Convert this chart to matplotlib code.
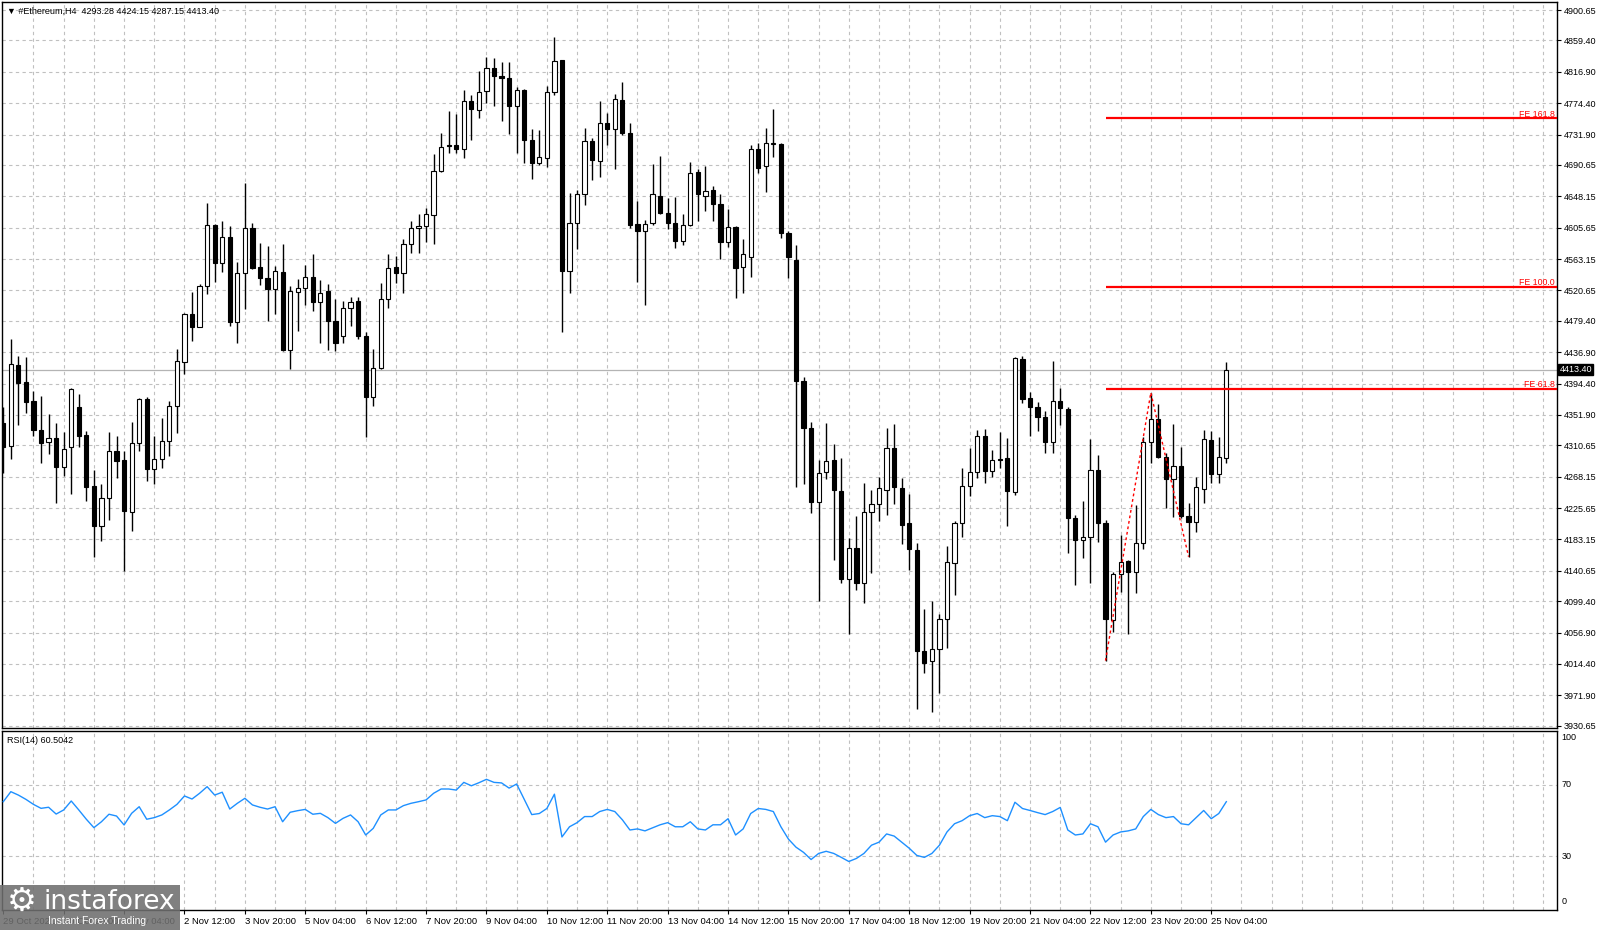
import matplotlib
matplotlib.use('Agg')
import matplotlib.pyplot as plt
from matplotlib.patches import Rectangle
import numpy as np

plt.rcParams['font.family'] = ['Liberation Sans', 'DejaVu Sans']

# OHLC, H4 свечи с 29 Oct 12:00 по 25 Nov 12:00
opens = [4340.4, 4309.7, 4419.5, 4396.0, 4370.7, 4331.4, 4314.7, 4321.0, 4281.7, 4307.9,
         4363.0, 4324.6, 4255.5, 4201.3, 4238.8, 4302.9, 4290.7, 4220.7, 4313.3, 4373.4,
         4278.5, 4291.6, 4316.9, 4363.9, 4423.1, 4488.2, 4471.5, 4526.6, 4609.3, 4557.3,
         4592.5, 4477.3, 4543.7, 4604.7, 4551.9, 4537.0, 4522.1, 4545.1, 4439.8, 4518.9,
         4524.3, 4538.3, 4505.3, 4520.2, 4479.1, 4458.8, 4496.3, 4506.2, 4458.8, 4375.6,
         4415.0, 4508.5, 4551.9, 4544.6, 4583.0, 4604.7, 4608.3, 4622.8, 4682.4, 4717.5,
         4717.7, 4711.8, 4777.8, 4765.1, 4791.3, 4821.6, 4811.6, 4808.0, 4770.5, 4792.2,
         4724.4, 4693.7, 4700.5, 4789.0, 4832.9, 4547.3, 4612.4, 4651.3, 4723.5, 4696.4,
         4747.9, 4739.4, 4778.4, 4734.5, 4610.9, 4601.4, 4612.6, 4649.1, 4626.1, 4612.6,
         4587.3, 4609.2, 4681.2, 4649.1, 4657.0, 4637.3, 4585.6, 4607.0, 4551.9, 4566.0,
         4712.0, 4689.6, 4719.5, 4719.4, 4598.0, 4561.5, 4397.4, 4334.5, 4233.3, 4273.8,
         4290.6, 4248.5, 4129.4, 4171.5, 4123.7, 4220.4, 4231.6, 4250.2, 4306.4, 4253.0,
         4204.7, 4168.7, 4031.9, 4018.8, 4034.1, 4074.8, 4150.7, 4204.9, 4255.5, 4274.0,
         4323.7, 4276.3, 4292.5, 4293.9, 4246.9, 4427.2, 4374.3, 4363.0, 4348.6, 4315.6,
         4371.2, 4359.9, 4211.7, 4182.3, 4185.9, 4277.2, 4205.8, 4073.9, 4136.2, 4154.3,
         4139.4, 4178.7, 4315.6, 4345.9, 4294.4, 4264.5, 4283.1, 4214.8, 4206.3, 4251.0,
         4317.9, 4271.8, 4293.28]
highs = [4363.0, 4454.7, 4432.2, 4430.8, 4384.3, 4377.5, 4352.6, 4341.3, 4329.1, 4387.9,
         4380.2, 4330.0, 4277.2, 4258.2, 4328.2, 4323.3, 4302.9, 4342.7, 4375.2, 4376.6,
         4323.3, 4347.2, 4370.7, 4440.7, 4489.5, 4518.9, 4529.3, 4638.6, 4610.5, 4614.7,
         4608.4, 4559.6, 4665.7, 4611.5, 4584.4, 4581.2, 4553.7, 4583.5, 4526.6, 4535.6,
         4555.0, 4569.9, 4534.7, 4528.8, 4508.5, 4506.7, 4512.1, 4512.1, 4464.7, 4440.7,
         4530.2, 4569.9, 4567.7, 4589.8, 4615.1, 4624.1, 4632.7, 4705.5, 4733.5, 4763.7,
         4759.7, 4792.2, 4785.4, 4818.0, 4837.4, 4835.1, 4829.7, 4829.7, 4796.7, 4793.0,
         4739.4, 4738.0, 4797.6, 4864.5, 4833.5, 4652.2, 4656.7, 4740.3, 4726.7, 4777.3,
         4760.6, 4786.3, 4803.7, 4747.5, 4641.8, 4616.5, 4691.3, 4702.5, 4645.8, 4647.5,
         4623.9, 4695.2, 4685.7, 4689.6, 4662.6, 4651.9, 4630.6, 4607.5, 4590.1, 4717.7,
         4720.5, 4741.3, 4766.6, 4720.5, 4601.4, 4581.7, 4403.0, 4342.3, 4290.6, 4341.2,
         4313.1, 4293.5, 4185.6, 4214.8, 4259.7, 4249.6, 4268.2, 4333.9, 4340.1, 4266.5,
         4244.6, 4178.2, 4088.3, 4099.6, 4082.0, 4174.2, 4208.1, 4279.5, 4306.6, 4331.4,
         4332.3, 4304.3, 4329.1, 4320.1, 4430.0, 4431.7, 4383.4, 4369.8, 4357.2, 4425.4,
         4387.9, 4362.1, 4216.2, 4235.2, 4318.8, 4297.5, 4209.4, 4139.4, 4189.1, 4155.0,
         4229.8, 4321.5, 4382.0, 4366.6, 4300.7, 4339.1, 4308.8, 4232.0, 4268.2, 4331.4,
         4330.0, 4321.5, 4424.15]
lows = [4272.7, 4292.1, 4338.2, 4354.0, 4323.7, 4287.1, 4298.4, 4232.0, 4269.1, 4244.7,
        4308.8, 4235.6, 4158.8, 4181.4, 4209.4, 4266.8, 4140.7, 4195.0, 4303.4, 4262.7,
        4258.2, 4279.4, 4296.2, 4326.9, 4407.3, 4452.0, 4470.6, 4515.3, 4532.4, 4546.0,
        4472.8, 4449.8, 4495.4, 4550.0, 4527.9, 4479.6, 4488.6, 4438.9, 4413.6, 4466.0,
        4500.8, 4493.1, 4448.8, 4439.8, 4438.9, 4448.8, 4472.3, 4454.3, 4321.4, 4363.9,
        4414.0, 4497.2, 4530.2, 4516.6, 4570.8, 4571.7, 4586.6, 4583.5, 4681.5, 4706.4,
        4706.4, 4699.6, 4724.4, 4753.8, 4774.1, 4770.5, 4750.2, 4732.1, 4706.4, 4692.8,
        4671.1, 4690.6, 4687.4, 4785.4, 4464.7, 4517.5, 4576.2, 4636.4, 4670.2, 4673.8,
        4717.7, 4684.7, 4731.7, 4605.3, 4532.3, 4501.4, 4609.2, 4624.5, 4604.2, 4578.3,
        4582.8, 4608.1, 4614.9, 4627.8, 4614.9, 4563.2, 4580.0, 4510.9, 4516.5, 4539.0,
        4680.0, 4654.2, 4700.8, 4591.3, 4536.8, 4254.1, 4258.1, 4219.3, 4099.6, 4265.4,
        4155.8, 4123.7, 4054.6, 4114.8, 4096.8, 4137.8, 4208.0, 4215.9, 4230.5, 4177.1,
        4141.7, 3953.5, 4001.6, 3949.6, 3975.4, 4035.5, 4107.8, 4186.8, 4242.4, 4265.9,
        4260.0, 4268.2, 4279.4, 4201.7, 4243.3, 4368.5, 4323.7, 4330.5, 4299.8, 4299.8,
        4338.2, 4164.2, 4121.3, 4157.5, 4123.6, 4180.0, 4018.8, 4058.1, 4112.3, 4054.5,
        4110.0, 4169.7, 4286.2, 4293.0, 4226.1, 4213.0, 4211.7, 4159.7, 4193.6, 4232.0,
        4260.0, 4260.0, 4287.15]
closes = [4308.8, 4420.4, 4394.7, 4369.8, 4331.4, 4314.2, 4321.0, 4281.7, 4305.7, 4387.0,
          4323.7, 4254.6, 4201.3, 4238.8, 4302.9, 4289.8, 4222.1, 4313.3, 4373.0, 4278.5,
          4291.6, 4316.9, 4363.9, 4424.9, 4488.2, 4471.5, 4526.6, 4609.3, 4557.3, 4592.5,
          4477.3, 4543.7, 4604.7, 4550.5, 4537.0, 4522.1, 4546.9, 4439.8, 4519.8, 4524.3,
          4539.2, 4505.3, 4517.5, 4479.1, 4448.8, 4496.3, 4504.4, 4458.8, 4375.6, 4415.0,
          4508.5, 4550.5, 4544.6, 4583.0, 4604.7, 4608.3, 4623.7, 4682.4, 4715.4, 4716.3,
          4711.8, 4777.8, 4766.0, 4790.0, 4821.6, 4811.6, 4808.0, 4770.5, 4792.2, 4724.4,
          4693.7, 4701.0, 4789.0, 4832.0, 4547.3, 4612.4, 4651.3, 4723.5, 4697.3, 4747.9,
          4739.4, 4779.6, 4733.4, 4609.8, 4600.8, 4610.9, 4651.9, 4625.0, 4612.6, 4587.3,
          4609.2, 4680.0, 4651.9, 4655.9, 4637.3, 4586.8, 4607.0, 4550.8, 4569.9, 4712.0,
          4686.8, 4720.5, 4720.5, 4598.0, 4566.0, 4397.4, 4333.9, 4233.3, 4272.7, 4289.5,
          4250.2, 4129.4, 4170.9, 4123.7, 4220.4, 4231.6, 4252.4, 4307.5, 4254.1, 4202.4,
          4169.8, 4032.2, 4016.1, 4034.1, 4074.8, 4152.0, 4204.9, 4255.5, 4274.0, 4323.7,
          4276.3, 4290.7, 4291.0, 4249.2, 4429.5, 4373.0, 4363.0, 4348.6, 4315.6, 4370.7,
          4361.7, 4211.7, 4182.3, 4186.8, 4277.2, 4205.8, 4074.8, 4136.2, 4152.0, 4139.4,
          4177.8, 4315.6, 4345.9, 4294.4, 4264.5, 4283.1, 4214.8, 4206.3, 4254.6, 4318.8,
          4271.8, 4294.4, 4413.40]

rsi = [60.5, 66.1, 64.2, 61.8, 59.0, 56.8, 57.4, 53.6, 55.9, 60.9,
       55.9, 50.7, 46.0, 49.3, 53.5, 52.5, 47.5, 54.0, 57.7, 50.7,
       51.6, 53.1, 55.9, 59.0, 63.7, 62.0, 65.2, 68.9, 64.2, 65.8,
       56.4, 59.6, 62.4, 58.7, 57.4, 56.4, 57.7, 49.3, 54.6, 55.5,
       56.2, 53.5, 54.0, 51.6, 48.4, 51.2, 53.1, 49.3, 41.9, 45.6,
       53.1, 55.9, 55.9, 58.3, 59.6, 60.5, 61.5, 65.2, 67.6, 67.6,
       67.0, 71.3, 69.4, 71.1, 73.0, 71.3,
       71.0, 68.1, 70.4, 61.9, 53.3, 53.9, 56.7, 64.7, 40.8, 46.5,
       48.8, 52.2, 52.2, 55.0, 56.2, 55.0, 50.4, 44.7, 45.3, 44.2,
       45.9, 47.6, 48.8, 46.5, 46.5, 49.3, 45.3, 44.7, 47.6, 47.6,
       51.0, 41.9, 45.3, 53.9, 56.7, 56.2, 55.0, 46.5, 39.6, 35.1,
       32.2, 28.2, 31.6, 32.8, 31.6, 29.4, 27.1, 28.8, 31.6, 36.2,
       37.9, 42.5, 41.3, 37.9, 34.5, 30.5, 29.4, 31.6, 36.2, 43.6,
       48.2, 49.9, 52.7, 53.9, 51.6, 52.7, 52.2, 49.9, 60.2, 56.7,
       55.6, 54.4, 53.3, 55.0, 57.3, 44.7, 41.9, 42.5, 48.2, 46.5,
       37.9, 41.9, 43.6, 44.2, 45.3, 52.2, 56.2, 53.3, 51.6, 52.2,
       48.2, 47.6, 51.6, 55.6, 51.0, 53.9, 60.5042]

price_labels = ['4900.65', '4859.40', '4816.90', '4774.40', '4731.90', '4690.65', '4648.15',
                '4605.65', '4563.15', '4520.65', '4479.40', '4436.90', '4394.40', '4351.90',
                '4310.65', '4268.15', '4225.65', '4183.15', '4140.65', '4099.40', '4056.90',
                '4014.40', '3971.90', '3930.65']
date_labels = ['29 Oct 2021', '30 Oct 20:00', '1 Nov 04:00', '2 Nov 12:00', '3 Nov 20:00',
               '5 Nov 04:00', '6 Nov 12:00', '7 Nov 20:00', '9 Nov 04:00', '10 Nov 12:00',
               '11 Nov 20:00', '13 Nov 04:00', '14 Nov 12:00', '15 Nov 20:00', '17 Nov 04:00',
               '18 Nov 12:00', '19 Nov 20:00', '21 Nov 04:00', '22 Nov 12:00', '23 Nov 20:00',
               '25 Nov 04:00']

# Fibonacci expansion
fe_names = ['FE 61.8', 'FE 100.0', 'FE 161.8']
fe_levels = [4386.6, 4525.6, 4753.8]
fe_start = 146
fe_points = [146, 152, 157]   # low - high - low

last_price = 4413.40

W, H = 1600, 930
fig = plt.figure(figsize=(W / 100, H / 100), dpi=100)
fig.patch.set_facecolor('white')

ax = fig.add_axes([2 / W, 1 - 728 / H, 1555 / W, 726 / H])
ax_r = fig.add_axes([2 / W, 1 - 910 / H, 1555 / W, 179 / H])

x = np.arange(len(opens))
o = np.array(opens); c = np.array(closes)
xmin, xmax = -0.17, 205.8
grid_kw = dict(color='#c0c0c0', lw=0.8, ls=(0, (3, 3)), zorder=0)

# --- основной график ---
ax.set_xlim(xmin, xmax)
ax.set_ylim(3927.5, 4911.5)
for v in [float(s) for s in price_labels]:
    ax.axhline(v, **grid_kw)
for gx in range(4, 206, 4):
    ax.axvline(gx, **grid_kw)

ax.vlines(x, lows, highs, color='black', lw=1, zorder=2)
bull = c >= o
bottoms = np.minimum(o, c)
heights = np.maximum(np.abs(c - o), 0.6)
ax.bar(x, heights, bottom=bottoms, width=0.56,
       color=np.where(bull, 'white', 'black'), edgecolor='black', lw=0.8, zorder=3)

ax.axhline(last_price, color='#b4b4b4', lw=0.9, zorder=1)

for name, lvl in zip(fe_names, fe_levels):
    ax.hlines(lvl, fe_start, xmax, color='#ff0000', lw=1.6, zorder=4)
    ax.text(xmax - 0.3, lvl + 2.5, name, color='#ff0000', fontsize=6.3,
            ha='right', va='baseline', zorder=5)
zz_y = [lows[fe_points[0]], highs[fe_points[1]], lows[fe_points[2]]]
ax.plot(fe_points, zz_y, color='#ff0000', lw=1, ls=(0, (2, 2)), zorder=5)

ax.yaxis.tick_right()
ax.set_yticks([float(s) for s in price_labels])
ax.set_yticklabels(price_labels)
ax.tick_params(axis='y', direction='out', length=3, width=0.8, pad=2, labelsize=6.5)
ax.set_xticks([])
for sp in ax.spines.values():
    sp.set_linewidth(1)
ax.text(1.0015, last_price, '4413.40', transform=ax.get_yaxis_transform(),
        color='white', fontsize=6.5, va='center', ha='left', zorder=10,
        bbox=dict(boxstyle='square,pad=0.15', fc='black', ec='black'))

ax.text(0.003, 0.994, '\u25bc #Ethereum,H4  4293.28 4424.15 4287.15 4413.40',
        transform=ax.transAxes, fontsize=6.5, va='top', ha='left',
        family=['Liberation Sans', 'DejaVu Sans'])

# --- RSI ---
ax_r.set_xlim(xmin, xmax)
ax_r.set_ylim(0, 100)
for v in [30, 70]:
    ax_r.axhline(v, **grid_kw)
for gx in range(4, 206, 4):
    ax_r.axvline(gx, **grid_kw)
ax_r.plot(x, rsi, color='#1e90ff', lw=1, zorder=3)
ax_r.set_yticks([])
for lab, yy, va in [('100', 0.99, 'top'), ('70', 0.7, 'center'),
                    ('30', 0.3, 'center'), ('0', 0.02, 'bottom')]:
    ax_r.text(1.003, yy, lab, transform=ax_r.transAxes, fontsize=6.5, va=va, ha='left')
ax_r.text(0.003, 0.97, 'RSI(14) 60.5042', transform=ax_r.transAxes,
          fontsize=6.5, va='top', ha='left')
ax_r.set_xticks(list(range(0, 161, 8)))
ax_r.set_xticklabels(date_labels, ha='left')
ax_r.tick_params(axis='x', direction='out', length=3, width=0.8, pad=2, labelsize=6.8)
for sp in ax_r.spines.values():
    sp.set_linewidth(1)

# --- логотип (поверх подписей дат, как на исходнике) ---
fig.patches.append(Rectangle((0, 0), 180 / W, 45 / H, transform=fig.transFigure,
                             fc='#6f6f6f', ec='none', alpha=0.88, zorder=20))
fig.text(7 / W, 1 - 901 / H, '\u2699', color='white', fontsize=24, va='center',
         ha='left', family='DejaVu Sans', zorder=21)
fig.text(44 / W, 1 - 902 / H, 'instaforex', color='white', fontsize=19, va='center',
         ha='left', family='DejaVu Sans', zorder=21)
fig.text(48 / W, 1 - 921 / H, 'Instant Forex Trading', color='white', fontsize=7.5,
         va='center', ha='left', zorder=21)

fig.savefig('out.png', dpi=100, facecolor='white')
